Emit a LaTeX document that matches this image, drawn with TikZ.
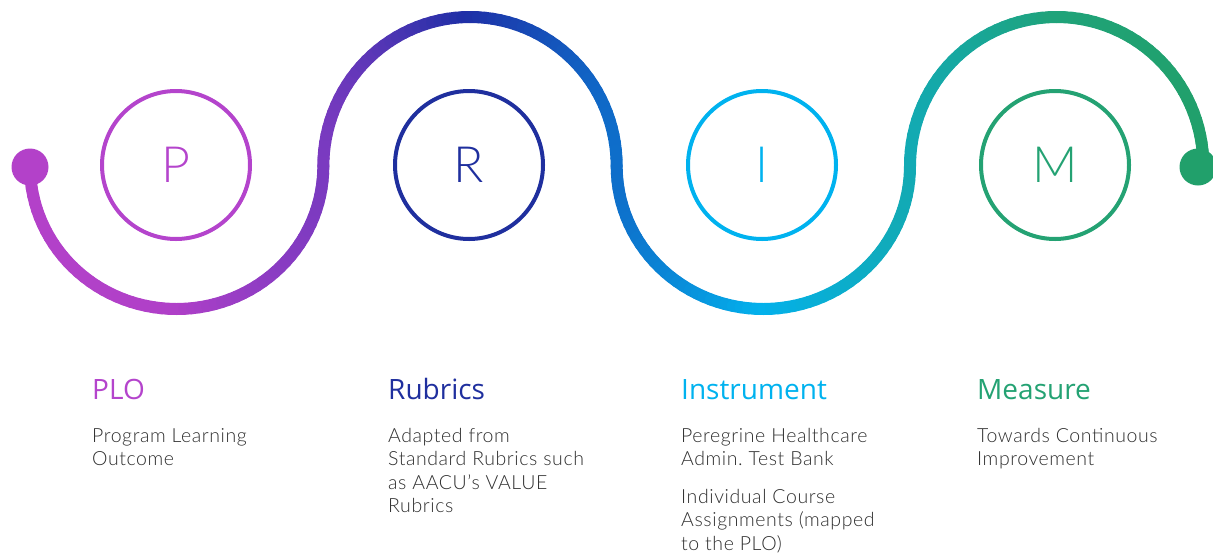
\documentclass[tikz,border=0pt]{standalone}
\usepackage{fontspec}
\setmainfont{Lato}
\newfontfamily\headfont{Open Sans}
\newfontfamily\thinfont{Lato Light}
\newfontfamily\bodyfont{Lato Light}[LetterSpace=3]
\frenchspacing

% ring / heading colours
\definecolor{colP}{HTML}{B444CC}
\definecolor{colR}{HTML}{1F2F9E}
\definecolor{colI}{HTML}{00B2EF}
\definecolor{colM}{HTML}{24A273}
\definecolor{bodygray}{HTML}{2E2E2E}
% colour stops along the wave, left to right
\definecolor{c0}{HTML}{B341C9}
\definecolor{c1}{HTML}{B040C8}
\definecolor{c2}{HTML}{7B3AC0}
\definecolor{c3}{HTML}{1E2FA6}
\definecolor{c4}{HTML}{0E6ECA}
\definecolor{c5}{HTML}{03B1EC}
\definecolor{c6}{HTML}{12AAB4}
\definecolor{c7}{HTML}{1FA37A}
\definecolor{c8}{HTML}{21A06B}

\begin{document}
\begin{tikzpicture}[x=1pt,y=-1pt,
  wave/.style={line width=12pt,line cap=round},
  ring/.style={circle,draw=#1,text=#1,line width=4pt,minimum size=148pt,
    inner sep=0pt,font=\thinfont\fontsize{50}{50}\selectfont},
  head/.style={anchor=base west,inner sep=0pt,text=#1,
    font=\headfont\fontsize{28}{32}\selectfont},
  % multi-line captions: the base anchor sits on the last line
  body/.style={anchor=base west,inner sep=0pt,text=bodygray,align=left,
    font=\bodyfont\fontsize{19.5}{23.6}\selectfont}]

\useasboundingbox (0,0) rectangle (1213,555);

% the wave: four half-ellipses, drawn in short pieces for the colour blend
\foreach \k/\ca/\cb/\cc/\sg in {0/c0/c1/c2/1,1/c2/c3/c4/-1,2/c4/c5/c6/1,3/c6/c7/c8/-1}{
  \pgfmathsetmacro\cx{176.67+293.33*\k}
  \pgfmathsetmacro\ry{(\sg>0) ? 143 : 149}
  \foreach \i in {0,...,59}{
    \pgfmathsetmacro\ta{3*\i}
    \pgfmathsetmacro\tb{3*\i+3}
    \pgfmathsetmacro\s{(1-cos(\ta+1.5))/2}
    \ifdim\s pt<0.5pt
      \pgfmathsetmacro\p{200*\s}
      \colorlet{segc}{\cb!\p!\ca}
    \else
      \pgfmathsetmacro\p{200*\s-100}
      \colorlet{segc}{\cc!\p!\cb}
    \fi
    \draw[wave,segc] ({\cx-146.67*cos(\ta)},{166+(\sg)*\ry*sin(\ta)})
      -- ({\cx-146.67*cos(\tb)},{166+(\sg)*\ry*sin(\tb)});
  }
}

% end dots
\fill[c0] (30,167) circle[radius=18.5];
\fill[c8] (1198,167) circle[radius=18.5];

% letter rings
\node[ring=colP] (P) at (176,165) {P};
\node[ring=colR] (R) at (469,165) {R};
\node[ring=colI] (I) at (762,165) {I};
\node[ring=colM] (M) at (1055,165) {M};

% captions
\node[head=colP] (hP) at (92,399) {PLO};
\node[body] (bP) at (92,465.6) {Program Learning\\Outcome};
\node[head=colR] (hR) at (388,399) {Rubrics};
\node[body] (bR) at (388,512.8) {Adapted from\\Standard Rubrics such\\as AACU’s VALUE\\Rubrics};
\node[head=colI] (hI) at (681,399) {Instrument};
\node[body] (bI1) at (681,465.6) {Peregrine Healthcare\\Admin. Test Bank};
\node[body] (bI2) at (681,550.5) {Individual Course\\Assignments (mapped\\to the PLO)};
\node[head=colM] (hM) at (977,399) {Measure};
\node[body] (bM) at (977,465.6) {Towards Continuous\\Improvement};
\end{tikzpicture}
\end{document}
